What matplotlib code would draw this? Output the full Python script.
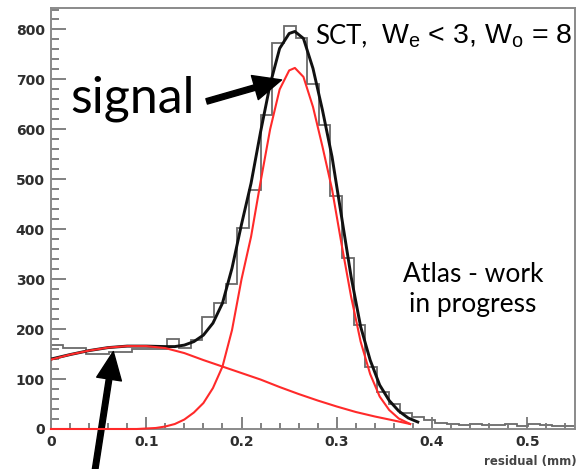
import matplotlib
matplotlib.use("Agg")
import matplotlib.pyplot as plt
import numpy as np

#Histogram: 45 bins of residual from 0 to 0.55 mm
edge_lo = 0.0
edge_hi = 0.55
counts = [168, 162, 162, 150, 150, 154, 154, 160, 160, 160,
          180, 162, 178, 224, 252, 290, 403, 478, 629, 773,
          806, 782, 690, 609, 467, 343, 208, 125, 75, 50,
          33, 24, 18, 12, 10, 8, 9, 7, 8, 9,
          6, 10, 7, 5, 6]

#Background fit (red, wide)
bg_x = [0.0, 0.02, 0.04, 0.06, 0.08, 0.10, 0.12, 0.14, 0.16, 0.18,
        0.20, 0.22, 0.24, 0.26, 0.28, 0.30, 0.32, 0.34, 0.36, 0.377]
bg_y = [139, 149, 157, 163, 166, 166, 162, 152, 138, 125,
        112, 99, 84, 70, 57, 45, 34, 25, 17, 10]

#Signal fit (red, peak)
sig_x = [0.0, 0.09, 0.10, 0.11, 0.12, 0.13, 0.14, 0.15, 0.16, 0.17,
         0.18, 0.19, 0.20, 0.21, 0.22, 0.23, 0.24, 0.25, 0.256, 0.265,
         0.275, 0.285, 0.295, 0.305, 0.315, 0.325, 0.335, 0.345, 0.355, 0.365,
         0.377]
sig_y = [0, 0, 1, 2, 5, 10, 19, 33, 52, 82,
         125, 198, 300, 385, 495, 600, 680, 718, 723, 705,
         645, 565, 480, 370, 265, 175, 110, 65, 38, 21,
         10]

#Total fit (black)
tot_x = [0.0, 0.02, 0.04, 0.06, 0.08, 0.10, 0.12, 0.13, 0.14, 0.15,
         0.16, 0.17, 0.18, 0.19, 0.20, 0.21, 0.22, 0.23, 0.24, 0.25,
         0.256, 0.265, 0.275, 0.285, 0.295, 0.305, 0.315, 0.325, 0.335, 0.345,
         0.355, 0.365, 0.375, 0.385]
tot_y = [140, 149, 157, 163, 166, 166, 165, 165, 168, 175,
         188, 212, 252, 322, 410, 492, 595, 690, 762, 792,
         796, 782, 722, 638, 545, 425, 305, 205, 138, 88,
         57, 36, 22, 14]

plt.rcParams['mathtext.fontset'] = 'custom'
plt.rcParams['mathtext.rm'] = 'Liberation Sans'

fig = plt.figure(figsize=(5.78, 4.69), dpi=100)
ax = fig.add_axes([0.0882, 0.0853, 0.9066, 0.8987])

edges = np.linspace(edge_lo, edge_hi, len(counts) + 1)
ax.stairs(counts, edges, color='#6a6a6a', lw=1.3)

#black total under the red components
ax.plot(tot_x, tot_y, color='#111111', lw=2.1, zorder=3)
ax.plot(bg_x, bg_y, color='#ff2a2a', lw=1.5, zorder=4)
ax.plot(sig_x, sig_y, color='#ff2a2a', lw=1.5, zorder=4, clip_on=False)

ax.set_xlim(0, 0.55)
ax.set_ylim(0, 844)

#ROOT-like frame and ticks
for s in ax.spines.values():
	s.set_color('#8a8a8a')
	s.set_linewidth(1.4)
	s.set_zorder(2.5)

ax.set_xticks(np.arange(0, 0.51, 0.1))
ax.set_xticklabels(['0', '0.1', '0.2', '0.3', '0.4', '0.5'])
ax.set_xticks(np.arange(0, 0.55, 0.02), minor=True)
ax.set_yticks(np.arange(0, 801, 100))
ax.set_yticks(np.arange(0, 844, 20), minor=True)

ax.tick_params(axis='both', which='both', direction='in', color='#777777', width=1.3,
               top=False, right=False, labelcolor='#2e2e2e')
ax.tick_params(axis='y', which='major', length=10.5, pad=4.5)
ax.tick_params(axis='y', which='minor', length=5.5)
ax.tick_params(axis='x', which='major', length=8.5, pad=4.5)
ax.tick_params(axis='x', which='minor', length=4.5)
for lab in ax.get_xticklabels() + ax.get_yticklabels():
	lab.set_fontfamily('DejaVu Sans')
	lab.set_fontweight('bold')
	lab.set_fontsize(10)

fig.text(577 / 578, 1 - 461 / 469, 'residual (mm)', ha='right', va='center',
         fontsize=8.5, fontweight='bold', color='#444444', family='DejaVu Sans')

#Annotations
fig.text(70 / 578, 1 - 112 / 469, 'signal', fontsize=36, family='Lato',
         va='baseline', ha='left', color='black')
fig.text(315 / 578, 1 - 43 / 469, 'SCT,', fontsize=18.5, family='Lato',
         va='baseline', ha='left', color='black')
fig.text(572 / 578, 1 - 43 / 469, r'W$_{\mathrm{e}}$ < 3, W$_{\mathrm{o}}$ = 8', fontsize=20.5,
         family='Liberation Sans', va='baseline', ha='right', color='black')
fig.text(473 / 578, 1 - 282 / 469, 'Atlas - work', fontsize=19, family='Lato',
         va='baseline', ha='center', color='black')
fig.text(473 / 578, 1 - 312 / 469, 'in progress', fontsize=19, family='Lato',
         va='baseline', ha='center', color='black')

arrow = dict(arrowstyle='simple,head_length=1.0,head_width=0.9,tail_width=0.2',
             color='black', mutation_scale=20, shrinkA=0, shrinkB=0)
ax.annotate('', xy=(0.242, 699), xytext=(0.1634, 656), arrowprops=arrow,
            annotation_clip=False)
ax.annotate('', xy=(0.0654, 155), xytext=(0.046, -85), arrowprops=arrow,
            annotation_clip=False)

fig.savefig('out.png', dpi=100)
